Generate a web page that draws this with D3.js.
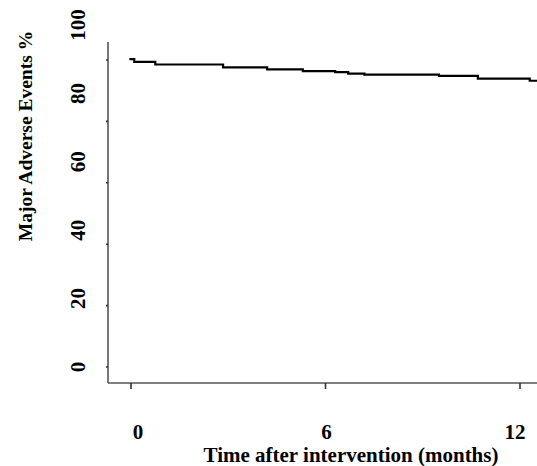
<!DOCTYPE html>
<html>
<head>
<meta charset="utf-8">
<script src="https://cdn.jsdelivr.net/npm/d3@7"></script>
<style>
  body { margin: 0; background: #fff; }
  text { font-family: "Liberation Serif", "Times New Roman", serif; font-weight: bold; fill: #000; }
</style>
</head>
<body>
<div id="chart"></div>
<script>
// step curve (months, %)
var months = [-0.05, 0.1, 0.75, 2.84, 4.2, 5.3, 6.3, 6.7, 7.2, 9.5, 10.7, 12.3, 12.6];
var events = [90.0, 89.2, 88.45, 87.6, 87.0, 86.5, 86.2, 85.8, 85.5, 85.1, 84.3, 83.7, 83.7];
var xTicks = [0, 6, 12];
var yTicks = [0, 20, 40, 60, 80, 100];

var width = 537, height = 466;

var svg = d3.select('#chart').append('svg')
  .attr('width', width)
  .attr('height', height);

var x = d3.scaleLinear().domain([0, 12]).range([131, 520]);
// labels and data
var y = d3.scaleLinear().domain([0, 100]).range([367, 25]);
// small marks on the axis line sit on a slightly different spacing
var yTick = d3.scaleLinear().domain([0, 100]).range([367, 60]);

var axisX = 108, axisY = 383;

// y axis line + ticks
svg.append('line')
  .attr('x1', axisX).attr('x2', axisX)
  .attr('y1', 42).attr('y2', axisY)
  .attr('stroke', '#555').attr('stroke-width', 1.6);

svg.selectAll('.ytick').data(yTicks).enter().append('line')
  .attr('class', 'ytick')
  .attr('x1', axisX - 2).attr('x2', axisX)
  .attr('y1', function(d){ return yTick(d); })
  .attr('y2', function(d){ return yTick(d); })
  .attr('stroke', '#333').attr('stroke-width', 1.6);

svg.selectAll('.ylab').data(yTicks).enter().append('text')
  .attr('class', 'ylab')
  .attr('transform', function(d){ return 'translate(78,' + y(d) + ') rotate(-90)'; })
  .attr('text-anchor', 'middle')
  .attr('dy', '0.35em')
  .style('font-size', '21px')
  .text(function(d){ return d; });

svg.append('text')
  .attr('transform', 'translate(25,136) rotate(-90)')
  .attr('text-anchor', 'middle')
  .attr('dy', '0.35em')
  .style('font-size', '19.5px')
  .text('Major Adverse Events %');

// x axis line + ticks
svg.append('line')
  .attr('x1', axisX).attr('x2', width)
  .attr('y1', axisY).attr('y2', axisY)
  .attr('stroke', '#555').attr('stroke-width', 1.6);

svg.selectAll('.xtick').data(xTicks).enter().append('line')
  .attr('class', 'xtick')
  .attr('x1', function(d){ return x(d); })
  .attr('x2', function(d){ return x(d); })
  .attr('y1', axisY).attr('y2', axisY + 6)
  .attr('stroke', '#333').attr('stroke-width', 1.6);

svg.selectAll('.xlab').data(xTicks).enter().append('text')
  .attr('class', 'xlab')
  .attr('x', function(d){ return x(d) + (d === 0 ? 7 : (d === 12 ? -5 : 1)); })
  .attr('y', 432)
  .attr('text-anchor', 'middle')
  .attr('dy', '0.35em')
  .style('font-size', '21px')
  .text(function(d){ return d; });

svg.append('text')
  .attr('x', 351).attr('y', 455)
  .attr('text-anchor', 'middle')
  .attr('dy', '0.35em')
  .style('font-size', '21px')
  .text('Time after intervention (months)');

// survival-style step line
var pts = months.map(function(m, i){ return [m, events[i]]; });
var line = d3.line()
  .x(function(d){ return x(d[0]); })
  .y(function(d){ return y(d[1]); })
  .curve(d3.curveStepAfter);

svg.append('path')
  .datum(pts)
  .attr('d', line)
  .attr('fill', 'none')
  .attr('stroke', '#000')
  .attr('stroke-width', 2.2);
</script>
</body>
</html>
